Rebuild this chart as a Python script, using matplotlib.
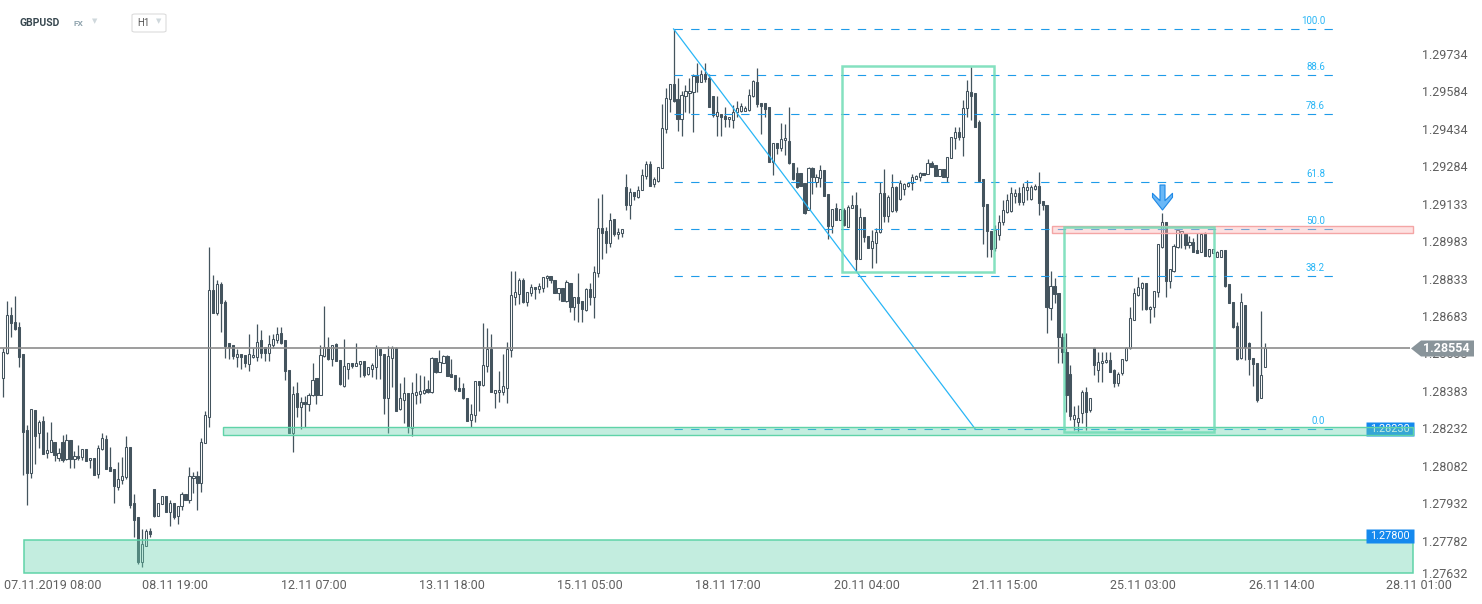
import numpy as np
import matplotlib
matplotlib.use("Agg")
import matplotlib.pyplot as plt
from matplotlib.patches import Rectangle, FancyBboxPatch
from matplotlib.path import Path

plt.rcParams['font.family'] = ['Roboto', 'DejaVu Sans']
plt.rcParams['lines.scale_dashes'] = False

# GBPUSD H1 candles
opens = [
    1.28435, 1.28535, 1.28687, 1.28659, 1.28639, 1.28531, 1.28227, 1.28054, 1.28307, 1.28215,
    1.28263, 1.28134, 1.28138, 1.28178, 1.28114, 1.28178, 1.28110, 1.28186, 1.28110, 1.28122,
    1.28118, 1.28150, 1.28106, 1.28114, 1.28050, 1.28150, 1.28190, 1.28078, 1.28070, 1.27998,
    1.28026, 1.28038, 1.28158, 1.27934, 1.27878, 1.27698, 1.27762, 1.27822, 1.27990, 1.27882,
    1.27930, 1.27962, 1.27898, 1.27934, 1.27882, 1.27922, 1.27970, 1.27946, 1.28034, 1.28042,
    1.28014, 1.28174, 1.28279, 1.28788, 1.28695, 1.28812, 1.28740, 1.28575, 1.28567, 1.28519,
    1.28531, 1.28527, 1.28491, 1.28519, 1.28519, 1.28587, 1.28559, 1.28535, 1.28567, 1.28587,
    1.28615, 1.28587, 1.28467, 1.28215, 1.28375, 1.28319, 1.28339, 1.28331, 1.28367, 1.28435,
    1.28367, 1.28523, 1.28559, 1.28511, 1.28571, 1.28507, 1.28403, 1.28471, 1.28495, 1.28483,
    1.28491, 1.28503, 1.28451, 1.28471, 1.28479, 1.28551, 1.28531, 1.28355, 1.28515, 1.28555,
    1.28311, 1.28347, 1.28375, 1.28235, 1.28367, 1.28371, 1.28375, 1.28391, 1.28379, 1.28515,
    1.28459, 1.28495, 1.28523, 1.28451, 1.28447, 1.28395, 1.28395, 1.28355, 1.28267, 1.28287,
    1.28423, 1.28407, 1.28483, 1.28551, 1.28375, 1.28379, 1.28379, 1.28395, 1.28547, 1.28760,
    1.28772, 1.28828, 1.28740, 1.28776, 1.28800, 1.28792, 1.28796, 1.28836, 1.28844, 1.28828,
    1.28776, 1.28796, 1.28744, 1.28816, 1.28720, 1.28760, 1.28744, 1.28708, 1.28792, 1.28760,
    1.28856, 1.29036, 1.29024, 1.28976, 1.29072, 1.29012, 1.29016, 1.29201, 1.29128, 1.29180,
    1.29160, 1.29188, 1.29245, 1.29293, 1.29213, 1.29225, 1.29277, 1.29433, 1.29553, 1.29613,
    1.29553, 1.29473, 1.29565, 1.29577, 1.29581, 1.29645, 1.29621, 1.29653, 1.29637, 1.29565,
    1.29485, 1.29493, 1.29485, 1.29473, 1.29469, 1.29501, 1.29505, 1.29505, 1.29509, 1.29565,
    1.29621, 1.29537, 1.29537, 1.29521, 1.29301, 1.29377, 1.29357, 1.29389, 1.29385, 1.29297,
    1.29257, 1.29257, 1.29217, 1.29108, 1.29277, 1.29221, 1.29237, 1.29269, 1.29172, 1.29044,
    1.29116, 1.29068, 1.29108, 1.29040, 1.29116, 1.29128, 1.28912, 1.29080, 1.29004, 1.28956,
    1.28976, 1.29020, 1.29177, 1.29084, 1.29104, 1.29201, 1.29153, 1.29193, 1.29205, 1.29217,
    1.29233, 1.29241, 1.29257, 1.29253, 1.29297, 1.29289, 1.29245, 1.29273, 1.29241, 1.29317,
    1.29397, 1.29421, 1.29401, 1.29517, 1.29581, 1.29577, 1.29461, 1.29233, 1.29132, 1.29024,
    1.28956, 1.29008, 1.29060, 1.29100, 1.29104, 1.29165, 1.29177, 1.29141, 1.29189, 1.29153,
    1.29193, 1.29205, 1.29145, 1.29128, 1.28716, 1.28804, 1.28776, 1.28599, 1.28539, 1.28451,
    1.28271, 1.28259, 1.28295, 1.28379, 1.28307, 1.28555, 1.28467, 1.28495, 1.28499, 1.28507,
    1.28467, 1.28415, 1.28455, 1.28507, 1.28555, 1.28667, 1.28768, 1.28796, 1.28816, 1.28712,
    1.28720, 1.28780, 1.28960, 1.29060, 1.28824, 1.28864, 1.28960, 1.29016, 1.29012, 1.28968,
    1.28980, 1.28948, 1.28940, 1.29012, 1.28924, 1.28936, 1.28920, 1.28920, 1.28948, 1.28812,
    1.28740, 1.28643, 1.28515, 1.28728, 1.28575, 1.28515, 1.28495, 1.28355, 1.28479,
]
highs = [
    1.28555, 1.28744, 1.28720, 1.28764, 1.28659, 1.28531, 1.28247, 1.28311, 1.28307, 1.28267,
    1.28283, 1.28219, 1.28259, 1.28178, 1.28154, 1.28207, 1.28211, 1.28186, 1.28142, 1.28166,
    1.28150, 1.28150, 1.28114, 1.28114, 1.28166, 1.28215, 1.28207, 1.28158, 1.28070, 1.28098,
    1.28118, 1.28203, 1.28158, 1.27970, 1.27878, 1.27830, 1.27830, 1.27834, 1.27990, 1.27934,
    1.27962, 1.27962, 1.27946, 1.27934, 1.27922, 1.27978, 1.27970, 1.28078, 1.28058, 1.28062,
    1.28194, 1.28303, 1.28960, 1.28848, 1.28828, 1.28820, 1.28748, 1.28575, 1.28567, 1.28551,
    1.28531, 1.28527, 1.28611, 1.28555, 1.28651, 1.28627, 1.28559, 1.28607, 1.28611, 1.28639,
    1.28639, 1.28587, 1.28467, 1.28403, 1.28419, 1.28359, 1.28363, 1.28375, 1.28495, 1.28435,
    1.28567, 1.28724, 1.28599, 1.28567, 1.28575, 1.28507, 1.28591, 1.28495, 1.28495, 1.28575,
    1.28503, 1.28503, 1.28479, 1.28495, 1.28567, 1.28551, 1.28531, 1.28563, 1.28563, 1.28559,
    1.28415, 1.28439, 1.28375, 1.28419, 1.28455, 1.28447, 1.28443, 1.28427, 1.28519, 1.28515,
    1.28547, 1.28527, 1.28527, 1.28511, 1.28447, 1.28439, 1.28415, 1.28355, 1.28331, 1.28423,
    1.28423, 1.28655, 1.28635, 1.28611, 1.28387, 1.28463, 1.28531, 1.28579, 1.28864, 1.28864,
    1.28836, 1.28836, 1.28780, 1.28812, 1.28800, 1.28816, 1.28840, 1.28848, 1.28844, 1.28828,
    1.28796, 1.28796, 1.28828, 1.28816, 1.28760, 1.28856, 1.28744, 1.28796, 1.28816, 1.28884,
    1.29156, 1.29172, 1.29040, 1.29096, 1.29072, 1.29036, 1.29032, 1.29253, 1.29196, 1.29180,
    1.29205, 1.29273, 1.29305, 1.29305, 1.29241, 1.29281, 1.29533, 1.29597, 1.29613, 1.29834,
    1.29637, 1.29585, 1.29609, 1.29637, 1.29653, 1.29697, 1.29669, 1.29697, 1.29653, 1.29565,
    1.29565, 1.29493, 1.29521, 1.29481, 1.29529, 1.29545, 1.29537, 1.29525, 1.29593, 1.29629,
    1.29677, 1.29537, 1.29537, 1.29521, 1.29377, 1.29377, 1.29457, 1.29453, 1.29521, 1.29297,
    1.29281, 1.29257, 1.29217, 1.29281, 1.29281, 1.29253, 1.29289, 1.29269, 1.29172, 1.29112,
    1.29136, 1.29112, 1.29116, 1.29128, 1.29168, 1.29180, 1.29116, 1.29080, 1.29004, 1.29028,
    1.29036, 1.29221, 1.29273, 1.29168, 1.29253, 1.29205, 1.29229, 1.29217, 1.29221, 1.29253,
    1.29249, 1.29261, 1.29257, 1.29313, 1.29305, 1.29289, 1.29273, 1.29273, 1.29321, 1.29401,
    1.29441, 1.29441, 1.29549, 1.29629, 1.29681, 1.29577, 1.29469, 1.29233, 1.29132, 1.29024,
    1.29048, 1.29088, 1.29148, 1.29172, 1.29201, 1.29193, 1.29201, 1.29217, 1.29229, 1.29209,
    1.29213, 1.29261, 1.29145, 1.29128, 1.28864, 1.28836, 1.28776, 1.28615, 1.28615, 1.28487,
    1.28323, 1.28327, 1.28387, 1.28399, 1.28355, 1.28559, 1.28539, 1.28539, 1.28539, 1.28539,
    1.28471, 1.28459, 1.28511, 1.28559, 1.28720, 1.28796, 1.28840, 1.28820, 1.28816, 1.28724,
    1.28784, 1.28972, 1.29096, 1.29060, 1.28872, 1.28972, 1.29032, 1.29024, 1.29012, 1.29004,
    1.28996, 1.29016, 1.29016, 1.29020, 1.28952, 1.28952, 1.28944, 1.28948, 1.28948, 1.28812,
    1.28740, 1.28659, 1.28776, 1.28728, 1.28579, 1.28515, 1.28495, 1.28703, 1.28575,
]
lows = [
    1.28359, 1.28531, 1.28599, 1.28627, 1.28479, 1.28046, 1.27926, 1.28034, 1.28090, 1.28154,
    1.28130, 1.28114, 1.28138, 1.28102, 1.28102, 1.28098, 1.28106, 1.28074, 1.28074, 1.28106,
    1.28106, 1.28102, 1.28074, 1.28046, 1.28034, 1.28146, 1.28070, 1.28062, 1.27934, 1.27986,
    1.28010, 1.28030, 1.27914, 1.27798, 1.27689, 1.27677, 1.27762, 1.27798, 1.27878, 1.27882,
    1.27930, 1.27898, 1.27842, 1.27870, 1.27850, 1.27906, 1.27946, 1.27934, 1.27974, 1.27906,
    1.27978, 1.28174, 1.28239, 1.28695, 1.28687, 1.28619, 1.28515, 1.28511, 1.28511, 1.28479,
    1.28471, 1.28479, 1.28463, 1.28515, 1.28503, 1.28515, 1.28503, 1.28503, 1.28555, 1.28575,
    1.28571, 1.28427, 1.28215, 1.28138, 1.28279, 1.28231, 1.28239, 1.28303, 1.28363, 1.28331,
    1.28367, 1.28519, 1.28507, 1.28483, 1.28503, 1.28407, 1.28399, 1.28431, 1.28475, 1.28483,
    1.28439, 1.28439, 1.28447, 1.28439, 1.28431, 1.28431, 1.28291, 1.28215, 1.28399, 1.28303,
    1.28307, 1.28255, 1.28215, 1.28203, 1.28331, 1.28335, 1.28371, 1.28375, 1.28375, 1.28455,
    1.28459, 1.28495, 1.28443, 1.28439, 1.28383, 1.28383, 1.28351, 1.28263, 1.28239, 1.28259,
    1.28303, 1.28403, 1.28459, 1.28379, 1.28315, 1.28339, 1.28367, 1.28335, 1.28519, 1.28728,
    1.28732, 1.28736, 1.28724, 1.28764, 1.28752, 1.28776, 1.28780, 1.28800, 1.28816, 1.28776,
    1.28748, 1.28744, 1.28740, 1.28700, 1.28667, 1.28659, 1.28659, 1.28704, 1.28728, 1.28675,
    1.28840, 1.28912, 1.28936, 1.28960, 1.29004, 1.28992, 1.29000, 1.29108, 1.29072, 1.29148,
    1.29156, 1.29188, 1.29233, 1.29205, 1.29201, 1.29221, 1.29277, 1.29417, 1.29501, 1.29541,
    1.29425, 1.29405, 1.29501, 1.29497, 1.29421, 1.29581, 1.29621, 1.29621, 1.29521, 1.29481,
    1.29405, 1.29405, 1.29441, 1.29441, 1.29437, 1.29481, 1.29501, 1.29505, 1.29505, 1.29561,
    1.29521, 1.29413, 1.29481, 1.29301, 1.29249, 1.29333, 1.29345, 1.29329, 1.29293, 1.29229,
    1.29196, 1.29205, 1.29092, 1.29108, 1.29172, 1.29201, 1.29201, 1.29164, 1.28992, 1.29016,
    1.29068, 1.29068, 1.29044, 1.29040, 1.29116, 1.28864, 1.28912, 1.28980, 1.28956, 1.28876,
    1.28896, 1.29016, 1.29060, 1.29060, 1.29100, 1.29100, 1.29148, 1.29169, 1.29201, 1.29189,
    1.29233, 1.29225, 1.29249, 1.29253, 1.29281, 1.29245, 1.29245, 1.29241, 1.29221, 1.29317,
    1.29353, 1.29389, 1.29325, 1.29481, 1.29469, 1.29441, 1.29225, 1.28972, 1.28920, 1.28920,
    1.28944, 1.28988, 1.29048, 1.29096, 1.29100, 1.29137, 1.29128, 1.29128, 1.29148, 1.29148,
    1.29189, 1.29088, 1.29108, 1.28615, 1.28667, 1.28736, 1.28495, 1.28495, 1.28299, 1.28267,
    1.28227, 1.28219, 1.28255, 1.28227, 1.28299, 1.28447, 1.28419, 1.28419, 1.28495, 1.28459,
    1.28399, 1.28403, 1.28447, 1.28503, 1.28551, 1.28667, 1.28764, 1.28708, 1.28708, 1.28655,
    1.28679, 1.28760, 1.28956, 1.28760, 1.28796, 1.28860, 1.28956, 1.28956, 1.28952, 1.28956,
    1.28940, 1.28936, 1.28940, 1.28924, 1.28920, 1.28936, 1.28920, 1.28920, 1.28800, 1.28736,
    1.28635, 1.28507, 1.28511, 1.28507, 1.28447, 1.28403, 1.28339, 1.28355, 1.28479,
]
closes = [
    1.28539, 1.28687, 1.28655, 1.28631, 1.28519, 1.28219, 1.28054, 1.28311, 1.28203, 1.28259,
    1.28130, 1.28146, 1.28186, 1.28126, 1.28134, 1.28106, 1.28186, 1.28110, 1.28122, 1.28114,
    1.28150, 1.28102, 1.28114, 1.28046, 1.28154, 1.28195, 1.28070, 1.28062, 1.28002, 1.28030,
    1.28042, 1.28158, 1.27926, 1.27866, 1.27698, 1.27770, 1.27822, 1.27810, 1.27882, 1.27934,
    1.27962, 1.27898, 1.27934, 1.27878, 1.27922, 1.27970, 1.27946, 1.28042, 1.28042, 1.28014,
    1.28178, 1.28287, 1.28788, 1.28695, 1.28812, 1.28736, 1.28563, 1.28559, 1.28523, 1.28531,
    1.28519, 1.28495, 1.28531, 1.28527, 1.28579, 1.28535, 1.28535, 1.28571, 1.28591, 1.28611,
    1.28575, 1.28463, 1.28215, 1.28371, 1.28319, 1.28339, 1.28331, 1.28367, 1.28427, 1.28367,
    1.28527, 1.28559, 1.28511, 1.28567, 1.28503, 1.28411, 1.28483, 1.28495, 1.28483, 1.28495,
    1.28503, 1.28447, 1.28479, 1.28487, 1.28555, 1.28527, 1.28355, 1.28523, 1.28555, 1.28303,
    1.28355, 1.28375, 1.28239, 1.28375, 1.28379, 1.28383, 1.28387, 1.28379, 1.28515, 1.28459,
    1.28499, 1.28523, 1.28443, 1.28439, 1.28391, 1.28383, 1.28355, 1.28263, 1.28291, 1.28423,
    1.28407, 1.28487, 1.28551, 1.28379, 1.28387, 1.28387, 1.28403, 1.28551, 1.28768, 1.28780,
    1.28828, 1.28740, 1.28780, 1.28800, 1.28792, 1.28804, 1.28840, 1.28844, 1.28828, 1.28776,
    1.28796, 1.28744, 1.28820, 1.28720, 1.28760, 1.28736, 1.28712, 1.28792, 1.28760, 1.28860,
    1.29036, 1.29016, 1.28976, 1.29068, 1.29012, 1.29020, 1.29032, 1.29128, 1.29180, 1.29164,
    1.29188, 1.29249, 1.29293, 1.29205, 1.29233, 1.29281, 1.29437, 1.29557, 1.29613, 1.29545,
    1.29473, 1.29569, 1.29585, 1.29585, 1.29645, 1.29621, 1.29653, 1.29633, 1.29521, 1.29489,
    1.29501, 1.29481, 1.29473, 1.29481, 1.29501, 1.29517, 1.29525, 1.29517, 1.29569, 1.29625,
    1.29533, 1.29525, 1.29513, 1.29301, 1.29377, 1.29357, 1.29393, 1.29397, 1.29297, 1.29233,
    1.29201, 1.29205, 1.29096, 1.29277, 1.29241, 1.29241, 1.29269, 1.29164, 1.29044, 1.29112,
    1.29068, 1.29112, 1.29048, 1.29120, 1.29128, 1.28912, 1.29080, 1.29000, 1.28956, 1.28984,
    1.29020, 1.29177, 1.29084, 1.29160, 1.29201, 1.29108, 1.29217, 1.29213, 1.29217, 1.29241,
    1.29245, 1.29257, 1.29249, 1.29297, 1.29281, 1.29245, 1.29273, 1.29241, 1.29321, 1.29401,
    1.29421, 1.29401, 1.29517, 1.29585, 1.29565, 1.29441, 1.29225, 1.29124, 1.29024, 1.28952,
    1.29028, 1.29060, 1.29108, 1.29148, 1.29177, 1.29177, 1.29141, 1.29201, 1.29201, 1.29201,
    1.29205, 1.29136, 1.29128, 1.28720, 1.28804, 1.28772, 1.28599, 1.28539, 1.28367, 1.28283,
    1.28287, 1.28275, 1.28379, 1.28299, 1.28355, 1.28487, 1.28499, 1.28503, 1.28507, 1.28459,
    1.28415, 1.28451, 1.28511, 1.28555, 1.28675, 1.28776, 1.28800, 1.28816, 1.28712, 1.28720,
    1.28784, 1.28972, 1.29060, 1.28824, 1.28872, 1.28964, 1.29028, 1.29024, 1.28968, 1.28980,
    1.28940, 1.28936, 1.29012, 1.28924, 1.28952, 1.28952, 1.28940, 1.28948, 1.28804, 1.28736,
    1.28639, 1.28511, 1.28740, 1.28559, 1.28511, 1.28491, 1.28347, 1.28447, 1.28555,
]

xtick_labels = ['07.11.2019 08:00', '08.11 19:00', '12.11 07:00', '13.11 18:00',
                '15.11 05:00', '18.11 17:00', '20.11 04:00', '21.11 15:00',
                '25.11 03:00', '26.11 14:00', '28.11 01:00']
xtick_pos = [12.6, 43.3, 78.4, 113.2, 147.9, 182.7, 217.7, 252.5, 287.3, 322.3, 356.9]
ytick_vals = [1.29734, 1.29584, 1.29434, 1.29284, 1.29133, 1.28983, 1.28833, 1.28683,
              1.28533, 1.28383, 1.28232, 1.28082, 1.27932, 1.27782, 1.27632]

# fibonacci retracement drawn from the swing high to the swing low
fib_labels = ['100.0', '88.6', '78.6', '61.8', '50.0', '38.2', '0.0']
fib_prices = [1.29834, 1.29651, 1.29491, 1.29221, 1.29032, 1.28843, 1.28230]
swing_x = [169, 245.0]
swing_y = [1.29834, 1.28230]

last_price = 1.28554
support_price = 1.28230
zone_price = 1.27800

# zones: (first candle, low, high) ; boxes: (x0, x1, low, high)
zone_low = (5.3, 1.27651, 1.27785)
band_support = (55.4, 1.28207, 1.28239)
band_resist = (264.4, 1.29014, 1.29044)
box_a = (211.4, 249.7, 1.28860, 1.29685)
box_b = (267.4, 305.2, 1.28219, 1.29040)
arrow_at = (292, 1.29158)

W, H = 1482, 604
STEP = 3.968   # pixels per candle


def px(x):
    # pixel column -> candle index
    return (x - 3) / STEP


fig = plt.figure(figsize=(W / 100, H / 100), dpi=100)
ax = fig.add_axes([0, 26 / H, 1, 578 / H])
ax.set_xlim(px(0), px(W))
ax.set_ylim(1.27633, 1.29950)
for s in ax.spines.values():
    s.set_visible(False)

dark = '#44545e'
o = np.array(opens)
c = np.array(closes)
hi = np.array(highs)
lo = np.array(lows)
x = np.arange(len(o))
up = c >= o

ax.vlines(x, lo, hi, color=dark, lw=0.9, zorder=2)
ax.bar(x, np.maximum(np.abs(c - o), 0.00002), bottom=np.minimum(o, c), width=0.55,
       color=np.where(up, 'white', dark).tolist(), edgecolor=dark, linewidth=0.75, zorder=3)

right = px(1413)
green_fill = (0.41, 0.83, 0.69, 0.4)
green_edge = '#5fd3a8'

ax.add_patch(Rectangle((zone_low[0], zone_low[1]), right - zone_low[0], zone_low[2] - zone_low[1],
                       fc=green_fill, ec=green_edge, lw=1.1, zorder=5))
ax.add_patch(Rectangle((band_support[0], band_support[1]), right - band_support[0],
                       band_support[2] - band_support[1], fc=green_fill, ec=green_edge, lw=1.0, zorder=5))
ax.add_patch(Rectangle((band_resist[0], band_resist[1]), right - band_resist[0],
                       band_resist[2] - band_resist[1], fc=(0.98, 0.71, 0.71, 0.4), ec='#f4a5a5',
                       lw=1.0, zorder=5))
for b in (box_a, box_b):
    ax.add_patch(Rectangle((b[0], b[2]), b[1] - b[0], b[3] - b[2], fill=False,
                           ec='#6fdcb5', lw=1.8, alpha=0.85, zorder=6))

# fibonacci levels + swing line
ax.hlines(fib_prices, swing_x[0], px(1333), colors='#1e9be9', linestyles=(0, (6, 6)),
          lw=0.8, zorder=4)
for lab, p in zip(fib_labels, fib_prices):
    ax.annotate(lab, xy=(px(1325), p), xytext=(0, 5.8), textcoords='offset points',
                ha='right', va='center', fontsize=7, color='#29b6f6', zorder=7)
ax.plot(swing_x, swing_y, color='#29b6f6', lw=0.9, zorder=4)

# current price line
ax.hlines(last_price, px(0), px(1410), color='#8c8c8c', lw=1.2, zorder=4)

# label boxes on the price scale
rect_path = Path([(-24, -7), (24, -7), (24, 7), (-24, 7), (-24, -7)],
                 [Path.MOVETO, Path.LINETO, Path.LINETO, Path.LINETO, Path.CLOSEPOLY])
ax.plot(px(1390), support_price, marker=rect_path, ms=48 * 0.72, mfc='#1589ee', mec='none',
        zorder=4.2)
ax.text(px(1390), support_price, f'{support_price:.5f}', ha='center', va='center',
        fontsize=7.8, color='white', zorder=4.3)
ax.plot(px(1390), zone_price, marker=rect_path, ms=48 * 0.72, mfc='#1589ee', mec='none', zorder=8)
ax.text(px(1390), zone_price, f'{zone_price:.5f}', ha='center', va='center',
        fontsize=7.8, color='white', zorder=9)

tag_path = Path([(-31.5, 0), (-21.5, 8), (31.5, 8), (31.5, -8), (-21.5, -8), (-31.5, 0)],
                [Path.MOVETO, Path.LINETO, Path.LINETO, Path.LINETO, Path.LINETO, Path.CLOSEPOLY])
ax.plot(px(1441.5), last_price, marker=tag_path, ms=63 * 0.72, mfc='#89949a', mec='none', zorder=8)
ax.text(px(1446), last_price, f'{last_price:.5f}', ha='center', va='center', fontsize=9,
        fontweight='bold', color='white', zorder=9)

# down arrow above the rejected high
arrow_path = Path([(-2.5, 12.5), (2.5, 12.5), (2.5, -3.2), (10, 4.2), (10, 0.2), (0, -12.5),
                   (-10, 0.2), (-10, 4.2), (-2.5, -3.2), (-2.5, 12.5)],
                  [Path.MOVETO] + [Path.LINETO] * 8 + [Path.CLOSEPOLY])
ax.plot(arrow_at[0], arrow_at[1], marker=arrow_path, ms=18, mfc='#6ab8f7', mec='#1e88e5',
        mew=0.8, zorder=9)

# axes ticks
ax.yaxis.tick_right()
ax.set_yticks(ytick_vals)
ax.set_yticklabels([f'{v:.5f}' for v in ytick_vals])
ax.tick_params(axis='y', length=0, pad=-43.2, labelsize=9, labelcolor='#5f5f5f')
ax.get_yticklabels()[-1].set_va('baseline')
ax.set_xticks(xtick_pos)
ax.set_xticklabels(xtick_labels)
ax.tick_params(axis='x', length=0, pad=0.8, labelsize=9, labelcolor='#5f5f5f')

# header
fig.text(20 / W, 1 - 23 / H, 'GBPUSD', fontsize=7.5, fontweight='bold', color='#37474f', va='center')
fig.text(73 / W, 1 - 23.5 / H, 'FX', fontsize=6, fontweight='bold', color='#90a4ae', va='center')
fig.text(95 / W, 1 - 22 / H, '▼', fontsize=5, color='#cfd8dc', ha='center', va='center')
fig.add_artist(FancyBboxPatch((132 / W, 1 - 32 / H), 34 / W, 18 / H,
                              boxstyle='round,pad=0,rounding_size=0.002',
                              transform=fig.transFigure, fc='white', ec='#dcdcdc', lw=0.8))
fig.text(137 / W, 1 - 23 / H, 'H1', fontsize=7, color='#555555', va='center')
fig.text(159 / W, 1 - 22 / H, '▼', fontsize=5, color='#cfd8dc', ha='center', va='center')

fig.savefig('out.png', dpi=100)
